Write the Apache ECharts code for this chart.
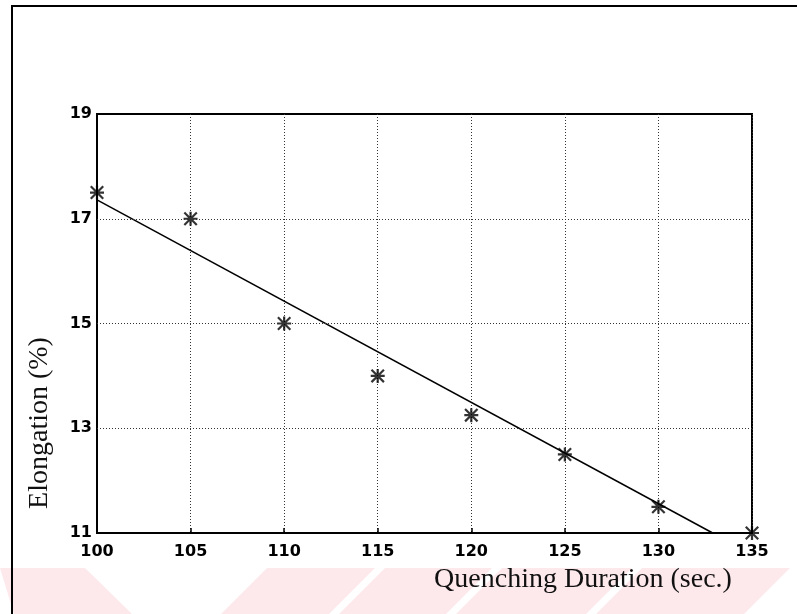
<!DOCTYPE html>
<html><head><meta charset="utf-8">
<script src="https://cdn.jsdelivr.net/npm/echarts@6/dist/echarts.min.js"></script>
<style>html,body{margin:0;padding:0;background:#fff}#c{width:797px;height:614px}</style>
</head><body><div id="c"></div>
<script>
const durations = [100, 105, 110, 115, 120, 125, 130, 135];
const elongation = [17.5, 17.0, 15.0, 14.0, 13.25, 12.5, 11.5, 11.0];
const fitX = [100, 132.9];
const fitY = [17.36, 11.0];
const xTicks = [100, 105, 110, 115, 120, 125, 130, 135];
const yTicks = [11, 13, 15, 17, 19];
const xTitle = 'Quenching Duration (sec.)';
const yTitle = 'Elongation (%)';

const STAR = 'path://M42 0L58 0L58 100L42 100ZM0 42L100 42L100 58L0 58ZM11 0L100 89L89 100L0 11ZM89 0L100 11L11 100L0 89Z';
const pink = '#fde9ec';
const chart = echarts.init(document.getElementById('c'), null, {renderer: 'canvas'});
const tickFont = {color: '#000', fontFamily: 'DejaVu Sans', fontWeight: 'bold', fontSize: 16};

chart.setOption({
  animation: false,
  backgroundColor: '#fff',
  grid: {left: 97, right: 45, top: 114, bottom: 81, show: true, borderColor: '#000', borderWidth: 2, backgroundColor: 'transparent'},
  xAxis: {
    type: 'value', min: xTicks[0], max: xTicks[xTicks.length - 1], interval: 5,
    axisLine: {lineStyle: {color: '#000', width: 2}},
    axisTick: {show: true, inside: true, length: 5, lineStyle: {color: '#000', width: 1.5}},
    axisLabel: Object.assign({margin: 11}, tickFont),
    splitLine: {show: true, lineStyle: {color: '#333', width: 1, type: [1, 2]}}
  },
  yAxis: {
    type: 'value', min: yTicks[0], max: yTicks[yTicks.length - 1], interval: 1,
    axisLine: {lineStyle: {color: '#000', width: 2}},
    axisTick: {show: false},
    axisLabel: Object.assign({margin: 5, formatter: v => yTicks.indexOf(v) >= 0 ? String(v) : ''}, tickFont),
    splitLine: {show: false}
  },
  graphic: [
    {type: 'polygon', z: 0, shape: {points: [[0,568],[85,568],[132,614],[14,614]]}, style: {fill: pink}},
    {type: 'polygon', z: 0, shape: {points: [[267,568],[375,568],[329,614],[221,614]]}, style: {fill: pink}},
    {type: 'polygon', z: 0, shape: {points: [[385,568],[492,568],[446,614],[339,614]]}, style: {fill: pink}},
    {type: 'polygon', z: 0, shape: {points: [[502,568],[632,568],[586,614],[456,614]]}, style: {fill: pink}},
    {type: 'polygon', z: 0, shape: {points: [[642,568],[790,568],[744,614],[596,614]]}, style: {fill: pink}},
    {type: 'polyline', z: 5, shape: {points: [[12,620],[12,6],[800,6]]}, style: {stroke: '#000', lineWidth: 2, fill: null}},
    {type: 'text', z: 10, x: 583, y: 580, style: {text: xTitle, font: '28px "Liberation Serif"', fill: '#111', align: 'center', verticalAlign: 'middle'}},
    {type: 'text', z: 10, x: 40, y: 423, rotation: Math.PI / 2, style: {text: yTitle, font: '28px "Liberation Serif"', fill: '#111', align: 'center', verticalAlign: 'middle'}}
  ],
  series: [
    {
      type: 'scatter', symbol: STAR, symbolSize: 14,
      itemStyle: {color: '#000'},
      data: durations.map((d, i) => [d, elongation[i]]),
      markLine: {
        silent: true, symbol: 'none', label: {show: false},
        lineStyle: {color: '#333', width: 1, type: [1, 2]},
        data: yTicks.filter((v, i) => i > 0 && i < yTicks.length - 1).map(v => ({yAxis: v}))
      },
      z: 4
    },
    {
      type: 'line', symbol: 'none', lineStyle: {color: '#000', width: 1.5},
      data: fitX.map((x, i) => [x, fitY[i]]), z: 3
    }
  ]
});
</script></body></html>
